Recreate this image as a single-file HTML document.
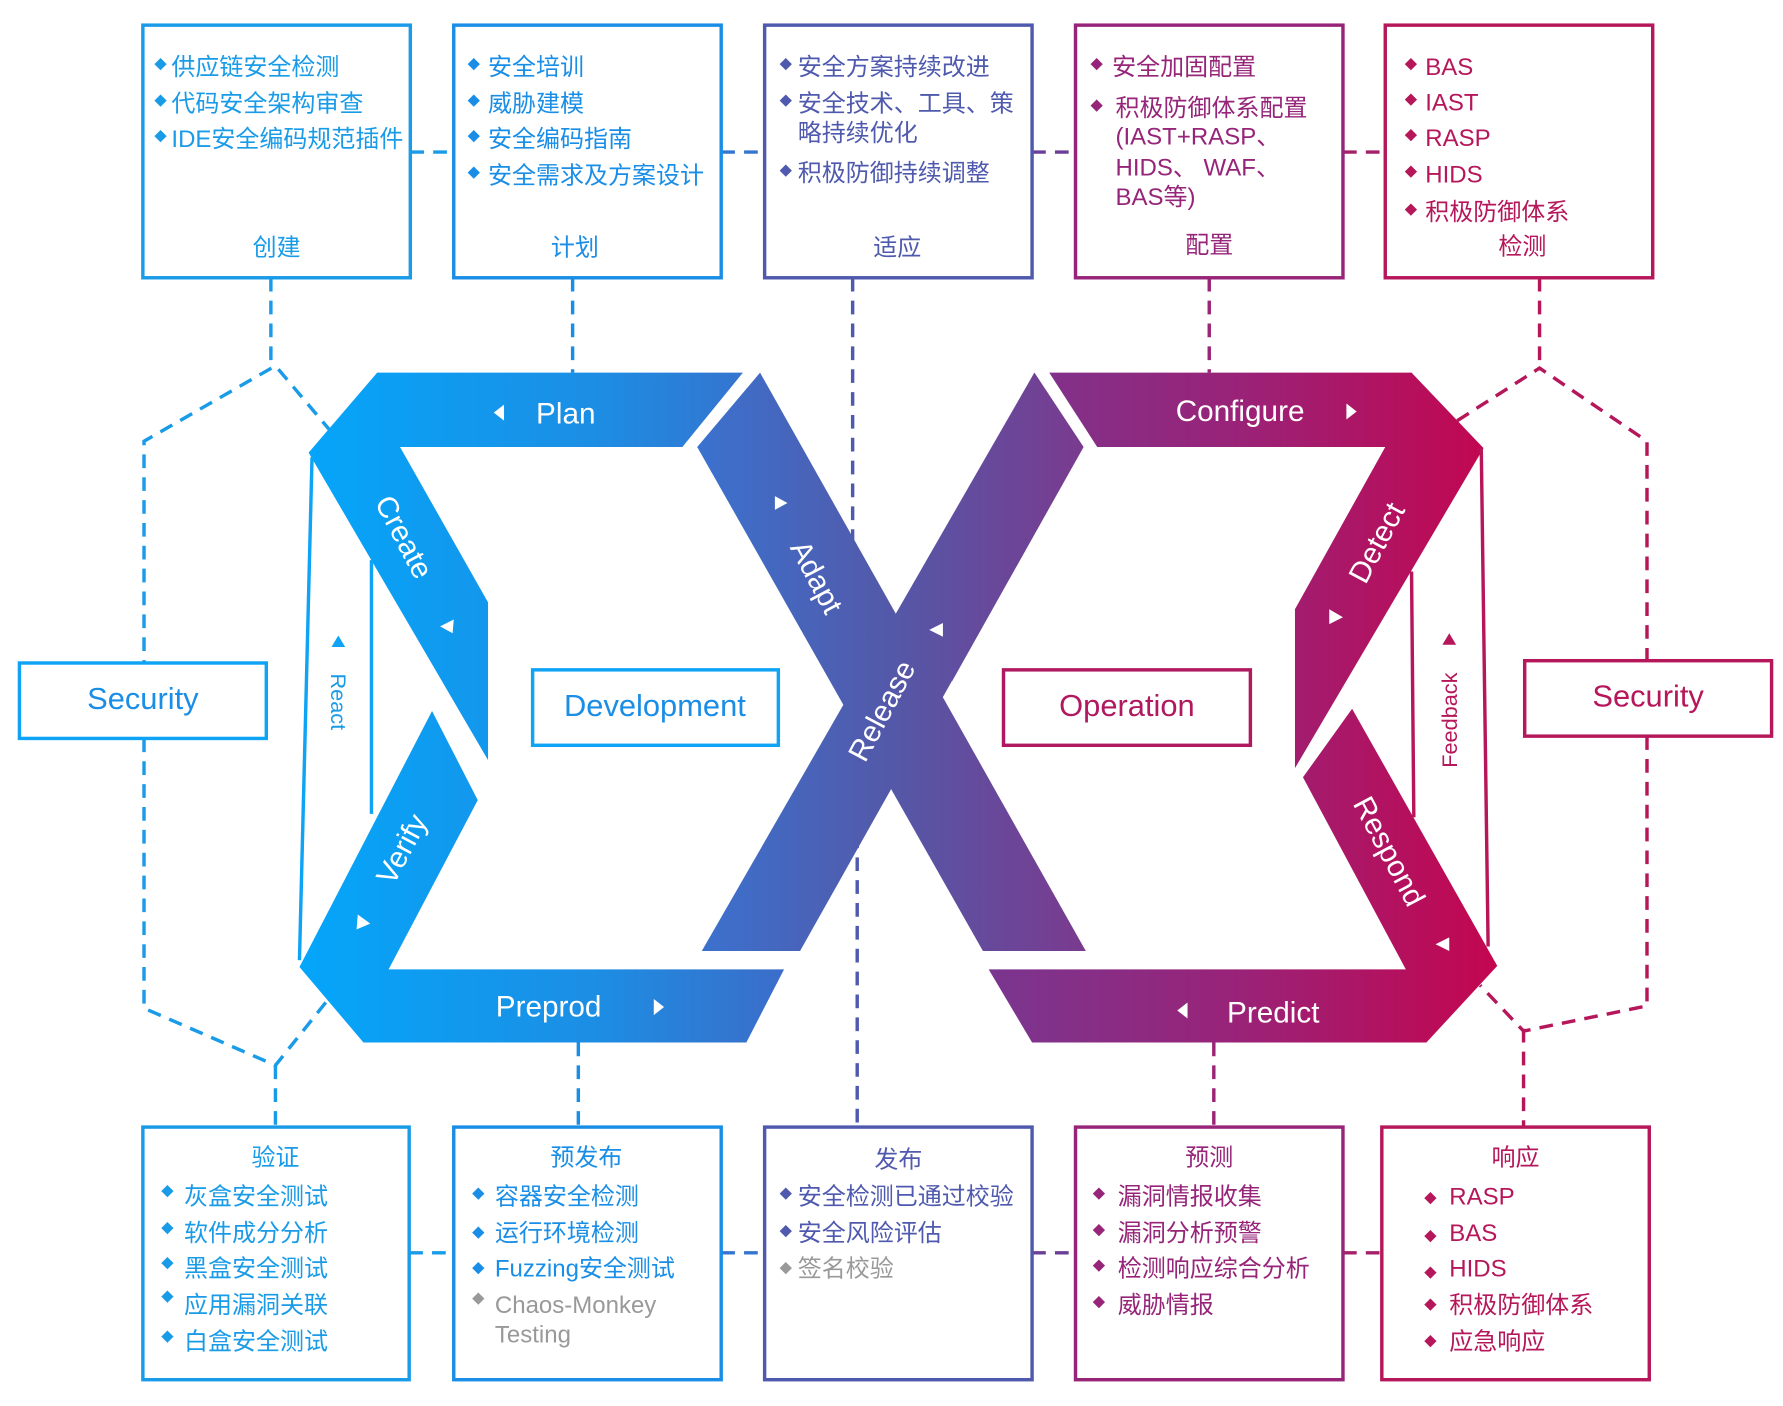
<!DOCTYPE html>
<html><head><meta charset="utf-8"><style>
html,body{margin:0;padding:0;background:#fff;}
svg{display:block;}
text{font-family:"Liberation Sans","Noto Sans CJK SC",sans-serif;}
text.b{font-size:11px;}
</style></head><body>
<svg width="1783" height="1406" viewBox="0 0 1560 1230" preserveAspectRatio="none" xmlns="http://www.w3.org/2000/svg">
<defs>
<linearGradient id="gl" gradientUnits="userSpaceOnUse" x1="262" y1="0" x2="690" y2="0"><stop offset="0" stop-color="#04a6fa"/><stop offset="0.6" stop-color="#1c8ee4"/><stop offset="1" stop-color="#3c6cc8"/></linearGradient>
<linearGradient id="gx" gradientUnits="userSpaceOnUse" x1="610" y1="0" x2="950" y2="0"><stop offset="0" stop-color="#3a72cf"/><stop offset="0.5" stop-color="#5458a8"/><stop offset="1" stop-color="#7a3a8e"/></linearGradient>
<linearGradient id="gr" gradientUnits="userSpaceOnUse" x1="865" y1="0" x2="1310" y2="0"><stop offset="0" stop-color="#7a3690"/><stop offset="0.5" stop-color="#9a2277"/><stop offset="1" stop-color="#c4064f"/></linearGradient>
</defs>

<g fill="none" stroke-width="3" stroke-dasharray="12,8">
<line x1="359" y1="133" x2="397" y2="133" stroke="#1a9be8"/>
<line x1="631" y1="133" x2="669" y2="133" stroke="#3575cf"/>
<line x1="903" y1="133" x2="941" y2="133" stroke="#6a3f97"/>
<line x1="1175" y1="133" x2="1212" y2="133" stroke="#a52068"/>
<line x1="358" y1="1096" x2="397" y2="1096" stroke="#1a9be8"/>
<line x1="631" y1="1096" x2="669" y2="1096" stroke="#3575cf"/>
<line x1="903" y1="1096" x2="941" y2="1096" stroke="#6a3f97"/>
<line x1="1175" y1="1096" x2="1209" y2="1096" stroke="#a52068"/>
<line x1="237" y1="243" x2="237" y2="320" stroke="#1a9be8"/>
<line x1="501" y1="243" x2="501" y2="326" stroke="#1a8ee6"/>
<line x1="746" y1="243" x2="746" y2="560" stroke="#4f5aae"/>
<line x1="1058" y1="243" x2="1058" y2="326" stroke="#9a2577"/>
<line x1="1347" y1="243" x2="1347" y2="322" stroke="#b5175a"/>
<line x1="241" y1="932" x2="241" y2="986" stroke="#1a9be8"/>
<line x1="506" y1="912" x2="506" y2="986" stroke="#1a8ee6"/>
<line x1="750" y1="690" x2="750" y2="986" stroke="#4f5aae"/>
<line x1="1062" y1="912" x2="1062" y2="986" stroke="#9a2577"/>
<line x1="1333" y1="900" x2="1333" y2="986" stroke="#b5175a"/>
<polyline points="290,378 241,320 126,386 126,580" stroke="#1a9be8"/>
<polyline points="126,646 126,882 241,932 285,877" stroke="#1a9be8"/>
<polyline points="1275,368 1347,322 1441,386 1441,578" stroke="#b5175a"/>
<polyline points="1441,644 1441,880 1333,902 1295,862" stroke="#b5175a"/>
</g>

<polygon points="330,326 650,326 597,391 350,391 427,527 427,665 270,396" fill="url(#gl)"/>
<polygon points="378,622 418,700 340,848 686,848 653,912 318,912 262,846" fill="url(#gl)"/>
<polygon points="905,326 948,391 700,832 614,832" fill="url(#gx)"/>
<polygon points="610,391 665,326 950,832 860,832" fill="url(#gx)"/>
<polygon points="905,326 948,391 833,596 790,540" fill="url(#gx)"/>
<polygon points="918,326 1235,326 1298,392 1133,672 1133,533 1212,391 960,391" fill="url(#gr)"/>
<polygon points="1183,620 1310,845 1248,912 903,912 865,848 1230,848 1140,680" fill="url(#gr)"/>

<g fill="none" stroke-width="3">
<polyline points="273,400 262,840" stroke="#0ea3f5"/>
<polyline points="325,490 325,712" stroke="#0ea3f5"/>
<polyline points="1296,392 1302,828" stroke="#b5175a"/>
<polyline points="1235,500 1237,715" stroke="#b5175a"/>
</g>
<polygon points="296,556 290,566 302,566" fill="#0ea3f5"/>
<text x="296" y="614" font-size="19" fill="#1a9be8" text-anchor="middle" dominant-baseline="central" transform="rotate(90 296 614)">React</text>
<polygon points="1268,554 1262,564 1274,564" fill="#b5175a"/>
<text x="1268" y="630" font-size="19" fill="#b5175a" text-anchor="middle" dominant-baseline="central" transform="rotate(-90 1268 630)">Feedback</text>

<g fill="#fff" font-size="26" text-anchor="middle" dominant-baseline="central">
<text x="495" y="362">Plan</text>
<text x="1085" y="360">Configure</text>
<text x="480" y="881">Preprod</text>
<text x="1114" y="886">Predict</text>
<text x="353" y="470" transform="rotate(62 353 470)">Create</text>
<text x="352" y="743" transform="rotate(-62 352 743)">Verify</text>
<text x="714" y="505" transform="rotate(62 714 505)">Adapt</text>
<text x="772" y="622" transform="rotate(-62 772 622)">Release</text>
<text x="1205" y="475" transform="rotate(-62 1205 475)">Detect</text>
<text x="1215" y="745" transform="rotate(62 1215 745)">Respond</text>
</g>
<g fill="#fff">
<polygon points="432,361 441,354 441,368"/>
<polygon points="1187,360 1178,353 1178,367"/>
<polygon points="581,881 572,874 572,888"/>
<polygon points="1030,884 1039,877 1039,891"/>
<polygon points="385,548 397,542 396,554"/>
<polygon points="313,800 324,808 312,813"/>
<polygon points="678,434 689,440 678,446"/>
<polygon points="825,545 825,557 813,551"/>
<polygon points="1163,533 1175,540 1163,546"/>
<polygon points="1268,820 1268,832 1256,826"/>
</g>

<rect x="466" y="586" width="215" height="66" fill="#fff" stroke="#0ea3f5" stroke-width="3"/>
<text x="573" y="617" font-size="27" fill="#1a8ee6" text-anchor="middle" dominant-baseline="central">Development</text>
<rect x="878" y="586" width="216" height="66" fill="#fff" stroke="#b01860" stroke-width="3"/>
<text x="986" y="617" font-size="27" fill="#b01860" text-anchor="middle" dominant-baseline="central">Operation</text>
<rect x="17" y="580" width="216" height="66" fill="#fff" stroke="#0ea3f5" stroke-width="3"/>
<text x="125" y="611" font-size="27" fill="#1a8ee6" text-anchor="middle" dominant-baseline="central">Security</text>
<rect x="1334" y="578" width="216" height="66" fill="#fff" stroke="#b5175a" stroke-width="3"/>
<text x="1442" y="609" font-size="27" fill="#b5175a" text-anchor="middle" dominant-baseline="central">Security</text>

<g fill="#fff" stroke-width="3">
<rect x="125" y="22" width="234" height="221" stroke="#1a9be8"/>
<rect x="397" y="22" width="234" height="221" stroke="#1a8ee6"/>
<rect x="669" y="22" width="234" height="221" stroke="#4f5aae"/>
<rect x="941" y="22" width="234" height="221" stroke="#962579"/>
<rect x="1212" y="22" width="234" height="221" stroke="#b5175a"/>
<rect x="125" y="986" width="233" height="221" stroke="#1a9be8"/>
<rect x="397" y="986" width="234" height="221" stroke="#1a8ee6"/>
<rect x="669" y="986" width="234" height="221" stroke="#4f5aae"/>
<rect x="941" y="986" width="234" height="221" stroke="#962579"/>
<rect x="1209" y="986" width="234" height="221" stroke="#b5175a"/>
</g>

<g font-size="21" dominant-baseline="central">
<g fill="#1a9be8">
<text class="b" x="135" y="57">◆</text><text x="150" y="59">供应链安全检测</text>
<text class="b" x="135" y="89">◆</text><text x="150" y="91">代码安全架构审查</text>
<text class="b" x="135" y="120">◆</text><text x="150" y="122">IDE安全编码规范插件</text>
<text x="242" y="217" text-anchor="middle">创建</text>
</g>
<g fill="#1a8ee6">
<text class="b" x="409" y="57">◆</text><text x="427" y="59">安全培训</text>
<text class="b" x="409" y="89">◆</text><text x="427" y="91">威胁建模</text>
<text class="b" x="409" y="120">◆</text><text x="427" y="122">安全编码指南</text>
<text class="b" x="409" y="152">◆</text><text x="427" y="154">安全需求及方案设计</text>
<text x="503" y="217" text-anchor="middle">计划</text>
</g>
<g fill="#4f5aae">
<text class="b" x="682" y="57">◆</text><text x="698" y="59">安全方案持续改进</text>
<text class="b" x="682" y="89">◆</text><text x="698" y="91">安全技术、工具、策</text>
<text x="698" y="117">略持续优化</text>
<text class="b" x="682" y="150">◆</text><text x="698" y="152">积极防御持续调整</text>
<text x="785" y="217" text-anchor="middle">适应</text>
</g>
<g fill="#962579">
<text class="b" x="954" y="57">◆</text><text x="973" y="59">安全加固配置</text>
<text class="b" x="954" y="93">◆</text><text x="976" y="95">积极防御体系配置</text>
<text x="976" y="120">(IAST+RASP、</text>
<text x="976" y="147">HIDS、 WAF、</text>
<text x="976" y="173">BAS等)</text>
<text x="1058" y="215" text-anchor="middle">配置</text>
</g>
<g fill="#b5175a">
<text class="b" x="1229" y="57">◆</text><text x="1247" y="59">BAS</text>
<text class="b" x="1229" y="88">◆</text><text x="1247" y="90">IAST</text>
<text class="b" x="1229" y="119">◆</text><text x="1247" y="121">RASP</text>
<text class="b" x="1229" y="151">◆</text><text x="1247" y="153">HIDS</text>
<text class="b" x="1229" y="184">◆</text><text x="1247" y="186">积极防御体系</text>
<text x="1332" y="216" text-anchor="middle">检测</text>
</g>

<g fill="#1a9be8">
<text x="241" y="1013" text-anchor="middle">验证</text>
<text class="b" x="141" y="1043">◆</text><text x="161" y="1047">灰盒安全测试</text>
<text class="b" x="141" y="1075">◆</text><text x="161" y="1079">软件成分分析</text>
<text class="b" x="141" y="1106">◆</text><text x="161" y="1110">黑盒安全测试</text>
<text class="b" x="141" y="1135">◆</text><text x="161" y="1142">应用漏洞关联</text>
<text class="b" x="141" y="1170">◆</text><text x="161" y="1174">白盒安全测试</text>
</g>
<g fill="#1a8ee6">
<text x="513" y="1013" text-anchor="middle">预发布</text>
<text class="b" x="413" y="1045">◆</text><text x="433" y="1047">容器安全检测</text>
<text class="b" x="413" y="1079">◆</text><text x="433" y="1079">运行环境检测</text>
<text class="b" x="413" y="1110">◆</text><text x="433" y="1110">Fuzzing安全测试</text>
</g>
<g fill="#999">
<text class="b" x="413" y="1137">◆</text><text x="433" y="1142">Chaos-Monkey</text>
<text x="433" y="1168">Testing</text>
<text class="b" x="682" y="1110">◆</text><text x="698" y="1110">签名校验</text>
</g>
<g fill="#4f5aae">
<text x="786" y="1015" text-anchor="middle">发布</text>
<text class="b" x="682" y="1045">◆</text><text x="698" y="1047">安全检测已通过校验</text>
<text class="b" x="682" y="1078">◆</text><text x="698" y="1079">安全风险评估</text>
</g>
<g fill="#962579">
<text x="1058" y="1013" text-anchor="middle">预测</text>
<text class="b" x="956" y="1045">◆</text><text x="978" y="1047">漏洞情报收集</text>
<text class="b" x="956" y="1077">◆</text><text x="978" y="1079">漏洞分析预警</text>
<text class="b" x="956" y="1108">◆</text><text x="978" y="1110">检测响应综合分析</text>
<text class="b" x="956" y="1140">◆</text><text x="978" y="1142">威胁情报</text>
</g>
<g fill="#b5175a">
<text x="1326" y="1013" text-anchor="middle">响应</text>
<text class="b" x="1246" y="1049">◆</text><text x="1268" y="1047">RASP</text>
<text class="b" x="1246" y="1082">◆</text><text x="1268" y="1079">BAS</text>
<text class="b" x="1246" y="1114">◆</text><text x="1268" y="1110">HIDS</text>
<text class="b" x="1246" y="1142">◆</text><text x="1268" y="1142">积极防御体系</text>
<text class="b" x="1246" y="1174">◆</text><text x="1268" y="1174">应急响应</text>
</g>
</g>
</svg>
</body></html>
